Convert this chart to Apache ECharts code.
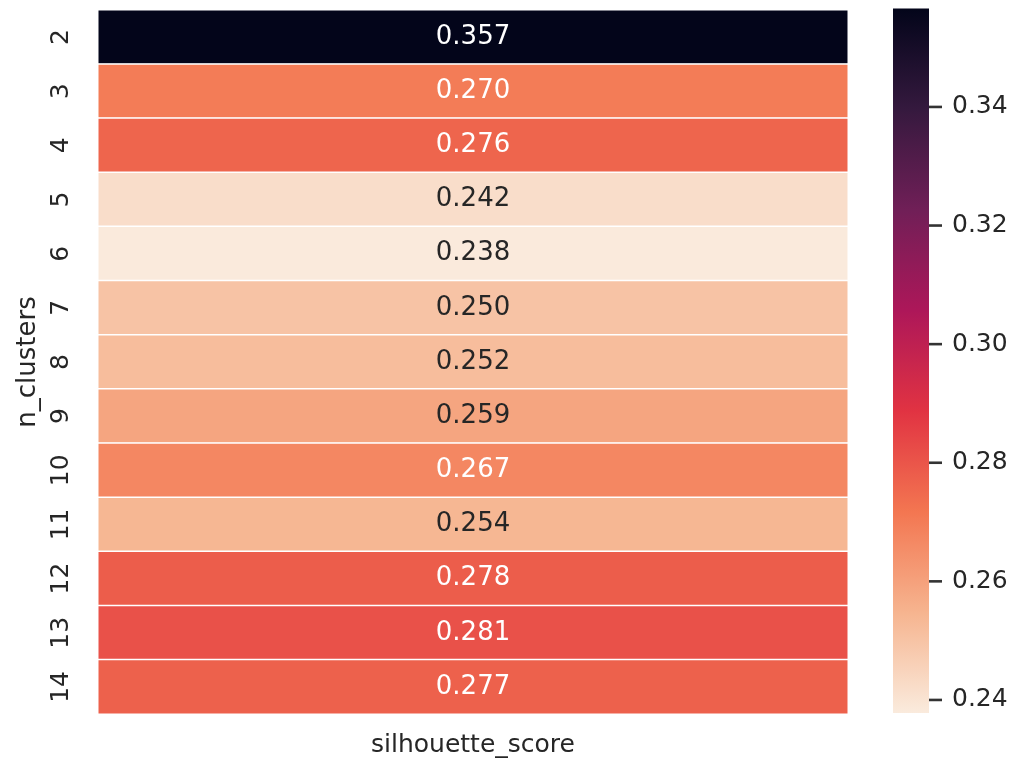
<!DOCTYPE html>
<html>
<head>
<meta charset="utf-8">
<script src="https://cdn.jsdelivr.net/npm/echarts@6/dist/echarts.min.js"></script>
<style>
  html, body { margin: 0; padding: 0; background: #ffffff; }
  #chart { width: 1016px; height: 767px; }
</style>
</head>
<body>
<div id="chart"></div>
<script>
// Silhouette score for each number of clusters
const nClusters = ['2', '3', '4', '5', '6', '7', '8', '9', '10', '11', '12', '13', '14'];
const silhouette = [0.357, 0.270, 0.276, 0.242, 0.238, 0.250, 0.252, 0.259, 0.267, 0.254, 0.278, 0.281, 0.277];
const columnName = ['silhouette_score'];
const colorbarTicks = [0.24, 0.26, 0.28, 0.30, 0.32, 0.34];
const colorRange = [0.2378, 0.3566];

// "rocket_r" colormap, light to dark, evenly spaced stops
const rocketR = ['#faebdd', '#f6b48f', '#f37651', '#e13342', '#ad1759', '#701f57', '#35193e', '#03051a'];

function hexToRgb(h) {
  return [parseInt(h.slice(1, 3), 16), parseInt(h.slice(3, 5), 16), parseInt(h.slice(5, 7), 16)];
}
function colorAt(v) {
  let t = (v - colorRange[0]) / (colorRange[1] - colorRange[0]);
  t = Math.max(0, Math.min(1, t)) * (rocketR.length - 1);
  const i = Math.min(Math.floor(t), rocketR.length - 2);
  const f = t - i;
  const a = hexToRgb(rocketR[i]), b = hexToRgb(rocketR[i + 1]);
  return a.map((c, k) => c + (b[k] - c) * f);
}
function luminance(rgb) {
  const lin = rgb.map(c => {
    c /= 255;
    return c <= 0.03928 ? c / 12.92 : Math.pow((c + 0.055) / 1.055, 2.4);
  });
  return 0.2126 * lin[0] + 0.7152 * lin[1] + 0.0722 * lin[2];
}

const cells = silhouette.map((v, i) => ({
  value: [0, i, v],
  label: { color: luminance(colorAt(v)) > 0.408 ? '#262626' : '#ffffff' }
}));

const textColor = '#262626';
const fontFamily = 'DejaVu Sans';

const chart = echarts.init(document.getElementById('chart'), null, { renderer: 'canvas' });
chart.setOption({
  backgroundColor: '#ffffff',
  animation: false,
  textStyle: { fontFamily: fontFamily },
  grid: [
    { left: 98, top: 10, width: 750, height: 704 },
    { left: 893, top: 8.5, width: 36, height: 704.5 }
  ],
  xAxis: [
    {
      type: 'category', gridIndex: 0, data: columnName,
      axisLine: { show: false }, axisTick: { show: false }, splitLine: { show: false },
      axisLabel: { fontSize: 25, color: textColor, margin: 19, fontFamily: fontFamily }
    },
    { type: 'value', gridIndex: 1, min: 0, max: 1, show: false }
  ],
  yAxis: [
    {
      type: 'category', gridIndex: 0, data: nClusters, inverse: true,
      axisLine: { show: false }, axisTick: { show: false }, splitLine: { show: false },
      axisLabel: { fontSize: 25, color: textColor, rotate: 90, margin: 24, fontFamily: fontFamily },
      name: 'n_clusters', nameLocation: 'middle', nameRotate: 90, nameGap: 56,
      nameTextStyle: { fontSize: 26, color: textColor, fontFamily: fontFamily }
    },
    {
      type: 'value', gridIndex: 1, position: 'right',
      min: colorRange[0], max: colorRange[1],
      axisLine: { show: false }, splitLine: { show: false }, axisTick: { show: false },
      axisLabel: {
        fontSize: 25, color: textColor, margin: 23, fontFamily: fontFamily,
        customValues: colorbarTicks,
        formatter: v => v.toFixed(2)
      }
    }
  ],
  visualMap: {
    show: false, type: 'continuous', seriesIndex: 0,
    min: colorRange[0], max: colorRange[1], dimension: 2,
    inRange: { color: rocketR }
  },
  series: [
    {
      type: 'heatmap', xAxisIndex: 0, yAxisIndex: 0,
      data: cells,
      itemStyle: { borderColor: '#ffffff', borderWidth: 1.5 },
      label: {
        show: true, fontSize: 26, fontFamily: fontFamily,
        formatter: p => p.value[2].toFixed(3)
      },
      emphasis: { disabled: true }
    },
    {
      // colorbar: one rectangle spanning the colour range, filled with the same ramp,
      // plus short tick marks on its right edge
      type: 'custom', xAxisIndex: 1, yAxisIndex: 1, silent: true,
      data: [[colorRange[0], colorRange[1]]],
      encode: { y: [0, 1] },
      renderItem: (params, api) => {
        const lo = api.coord([0, api.value(0)]);
        const hi = api.coord([1, api.value(1)]);
        const stops = rocketR.map((c, i) => ({ offset: i / (rocketR.length - 1), color: c }));
        const children = [{
          type: 'rect',
          shape: { x: lo[0], y: hi[1], width: hi[0] - lo[0], height: lo[1] - hi[1] },
          style: { fill: new echarts.graphic.LinearGradient(0, 1, 0, 0, stops) }
        }];
        colorbarTicks.forEach(t => {
          const y = api.coord([1, t])[1];
          children.push({
            type: 'line',
            shape: { x1: hi[0], y1: y, x2: hi[0] + 13, y2: y },
            style: { stroke: '#333333', lineWidth: 2.6 }
          });
        });
        return { type: 'group', children: children };
      }
    }
  ]
});
</script>
</body>
</html>
